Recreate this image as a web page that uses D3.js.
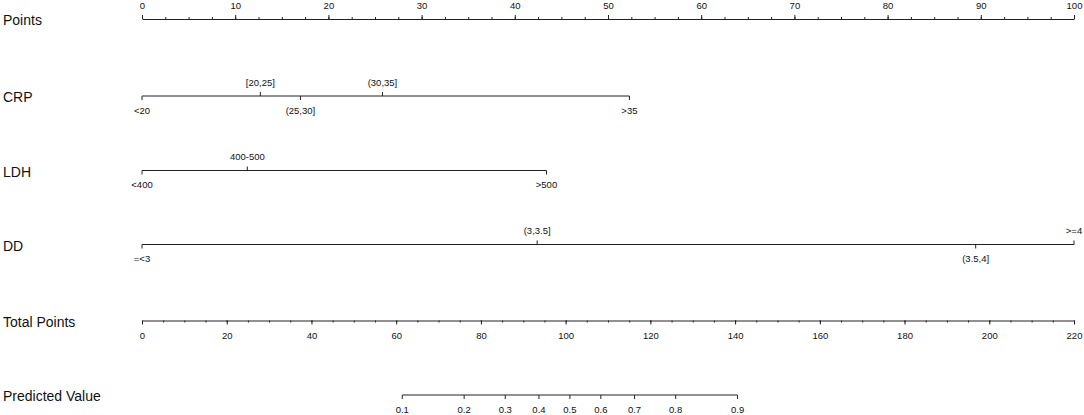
<!DOCTYPE html>
<html><head><meta charset="utf-8">
<script src="https://cdn.jsdelivr.net/npm/d3@7"></script>
<style>
body{margin:0;background:#fff}
svg{display:block}
text{font-family:"Liberation Sans",Arial,Helvetica,sans-serif;fill:#111}
</style>
</head><body><svg id="c" width="1084" height="415"></svg>
<script>
// ---- data ----
const rowNames = ["Points","CRP","LDH","DD","Total Points","Predicted Value"];
const pointsTicks = [0,10,20,30,40,50,60,70,80,90,100];
const crpLevels = ["<20","[20,25]","(25,30]","(30,35]",">35"];
const crpPoints = [0,12.7,17.0,25.8,52.3];
const ldhLevels = ["<400","400-500",">500"];
const ldhPoints = [0,11.3,43.4];
const ddLevels = ["=<3","(3,3.5]","(3.5,4]",">=4"];
const ddPoints = [0,42.4,89.45,100];
const totalTicks = [0,20,40,60,80,100,120,140,160,180,200,220];
const predictedTicks = [0.1,0.2,0.3,0.4,0.5,0.6,0.7,0.8,0.9];
const lpIntercept = -5.608, lpSlope = 0.05552; // logit = intercept + slope * totalPoints

// ---- layout ----
const svg = d3.select("#c");
const xL = 142, xR = 1074;
const rowY = [19, 96, 170.5, 244.5, 320.5, 395];
const stroke = "#222";
const tickFont = "9.5px";

const xPts = d3.scaleLinear().domain([0,100]).range([xL,xR]);
const xTot = d3.scaleLinear().domain([0,220]).range([xL,xR]);
const logit = p => Math.log(p/(1-p));
const xPred = p => xTot((logit(p) - lpIntercept) / lpSlope);

// left labels
svg.selectAll("text.rowlab").data(rowNames).join("text")
  .attr("class","rowlab").attr("x",3).attr("y",(d,i)=>rowY[i]+6)
  .style("font-size","14px").text(d=>d);

function styleAxis(g){
  g.attr("font-family",null).attr("font-size",null);
  g.selectAll("path,line").attr("stroke",stroke).attr("stroke-width",1);
  g.selectAll("text").style("font-size",tickFont).attr("fill","#111");
}

// Points axis
const gP = svg.append("g").attr("transform",`translate(0,${rowY[0]})`);
gP.call(d3.axisTop(xPts).tickValues(pointsTicks).tickSize(4).tickSizeOuter(0).tickPadding(6).tickFormat(d3.format("d")));
styleAxis(gP);
const gPm = svg.append("g").attr("transform",`translate(0,${rowY[0]})`);
gPm.call(d3.axisTop(xPts).tickValues(d3.range(0,100.01,2.5)).tickSize(2).tickFormat(""));
gPm.select(".domain").remove(); styleAxis(gPm);

// variable axes
function drawVar(levels, pts, y){
  const g = svg.append("g");
  g.append("line").attr("x1",xPts(d3.min(pts))).attr("x2",xPts(d3.max(pts)))
    .attr("y1",y).attr("y2",y).attr("stroke",stroke);
  const items = levels.map((l,i)=>({l, p:pts[i], below: i%2===0}));
  g.selectAll("line.t").data(items).join("line").attr("class","t")
    .attr("x1",d=>xPts(d.p)).attr("x2",d=>xPts(d.p))
    .attr("y1",y).attr("y2",d=>d.below? y+4 : y-4).attr("stroke",stroke);
  g.selectAll("text").data(items).join("text")
    .attr("x",d=>xPts(d.p)).attr("y",d=>d.below? y+17.8 : y-10.5)
    .attr("text-anchor","middle").style("font-size",tickFont).text(d=>d.l);
}
drawVar(crpLevels, crpPoints, rowY[1]);
drawVar(ldhLevels, ldhPoints, rowY[2]);
drawVar(ddLevels, ddPoints, rowY[3]);

// Total points axis
const gT = svg.append("g").attr("transform",`translate(0,${rowY[4]})`);
gT.call(d3.axisBottom(xTot).tickValues(totalTicks).tickSize(4).tickSizeOuter(0).tickPadding(7.5).tickFormat(d3.format("d")));
styleAxis(gT);
const gTm = svg.append("g").attr("transform",`translate(0,${rowY[4]})`);
gTm.call(d3.axisBottom(xTot).tickValues(d3.range(0,220.01,5)).tickSize(2).tickFormat(""));
gTm.select(".domain").remove(); styleAxis(gTm);

// Predicted value axis
const gV = svg.append("g").attr("transform",`translate(0,${rowY[5]})`);
gV.append("line").attr("x1",xPred(d3.min(predictedTicks))).attr("x2",xPred(d3.max(predictedTicks)))
  .attr("y1",0).attr("y2",0).attr("stroke",stroke);
gV.selectAll("line.t").data(predictedTicks).join("line").attr("class","t")
  .attr("x1",d=>xPred(d)).attr("x2",d=>xPred(d)).attr("y1",0).attr("y2",4).attr("stroke",stroke);
gV.selectAll("text").data(predictedTicks).join("text")
  .attr("x",d=>xPred(d)).attr("y",11.5).attr("dy","0.71em").attr("text-anchor","middle")
  .style("font-size",tickFont).text(d=>d3.format(".1f")(d));
</script>
</body></html>
